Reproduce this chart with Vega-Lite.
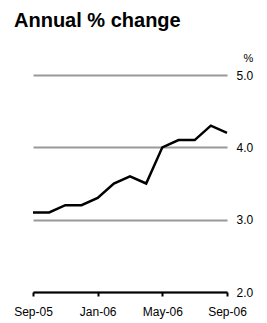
{
  "$schema": "https://vega.github.io/schema/vega-lite/v6.json",
  "width": 194,
  "height": 217,
  "autosize": "none",
  "padding": {"left": 33, "top": 75, "right": 40, "bottom": 31},
  "background": "white",
  "title": {
    "text": "Annual % change",
    "anchor": "start",
    "frame": "group",
    "font": "Liberation Sans",
    "fontSize": 20,
    "fontWeight": "bold",
    "color": "black",
    "dx": -19,
    "offset": 21
  },
  "config": {"view": {"stroke": null}},
  "data": {
    "values": [
      {"month": "Sep-05", "value": 3.1},
      {"month": "Oct-05", "value": 3.1},
      {"month": "Nov-05", "value": 3.2},
      {"month": "Dec-05", "value": 3.2},
      {"month": "Jan-06", "value": 3.3},
      {"month": "Feb-06", "value": 3.5},
      {"month": "Mar-06", "value": 3.6},
      {"month": "Apr-06", "value": 3.5},
      {"month": "May-06", "value": 4.0},
      {"month": "Jun-06", "value": 4.1},
      {"month": "Jul-06", "value": 4.1},
      {"month": "Aug-06", "value": 4.3},
      {"month": "Sep-06", "value": 4.2}
    ]
  },
  "mark": {"type": "line", "color": "black", "strokeWidth": 2.5},
  "encoding": {
    "x": {
      "field": "month",
      "type": "ordinal",
      "sort": null,
      "scale": {"type": "point", "padding": 0},
      "axis": {
        "title": null,
        "values": ["Sep-05", "Jan-06", "May-06", "Sep-06"],
        "labelAngle": 0,
        "labelFont": "Liberation Sans",
        "labelFontSize": 12,
        "labelColor": "black",
        "labelPadding": 10,
        "domainColor": "black",
        "domainWidth": 2,
        "tickColor": "black",
        "tickWidth": 2,
        "tickSize": 4,
        "zindex": 1
      }
    },
    "y": {
      "field": "value",
      "type": "quantitative",
      "scale": {"domain": [2, 5], "nice": false, "zero": false},
      "axis": {
        "orient": "right",
        "values": [2, 3, 4, 5],
        "format": ".1f",
        "grid": true,
        "gridColor": "#999999",
        "gridWidth": 2,
        "domain": false,
        "ticks": false,
        "labelFont": "Liberation Sans",
        "labelFontSize": 12,
        "labelColor": "black",
        "labelPadding": 9,
        "title": "%",
        "titleAngle": 0,
        "titleFont": "Liberation Sans",
        "titleFontSize": 11,
        "titleFontWeight": "normal",
        "titleColor": "black",
        "titleAlign": "center",
        "titleBaseline": "bottom",
        "titleX": 21,
        "titleY": -12,
        "zindex": 0
      }
    }
  }
}
